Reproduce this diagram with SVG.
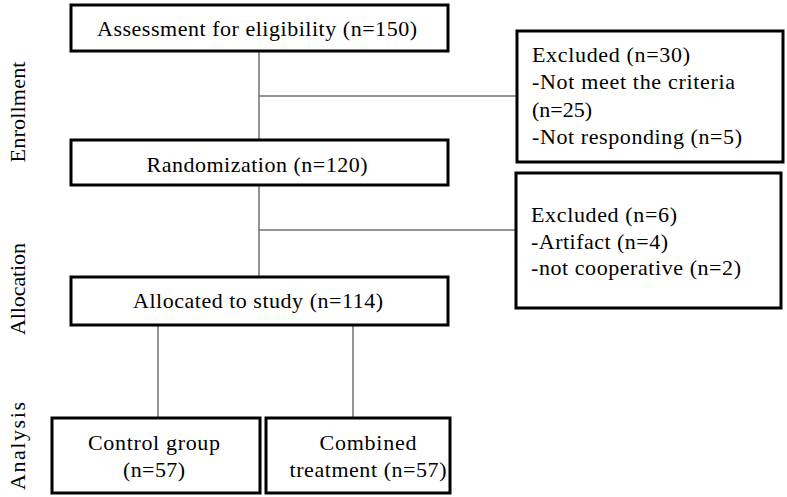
<svg xmlns="http://www.w3.org/2000/svg" width="787" height="497" viewBox="0 0 787 497">
<style>
.box{fill:#fff;stroke:#000;stroke-width:3}
.t{font-family:"Liberation Serif","Times New Roman",serif;font-size:22px;fill:#000}
.c{text-anchor:middle}
.lab{font-family:"Liberation Serif","Times New Roman",serif;font-size:22px;fill:#000;text-anchor:middle}
.ln{stroke:#707070;stroke-width:1.5;fill:none}
</style>
<rect width="787" height="497" fill="#fff"/>
<g id="connectors">
<line class="ln" x1="259" y1="51" x2="259" y2="140"/>
<line class="ln" x1="259" y1="96" x2="517" y2="96"/>
<line class="ln" x1="259" y1="185" x2="259" y2="276"/>
<line class="ln" x1="259" y1="230" x2="516" y2="230"/>
<line class="ln" x1="158" y1="325" x2="158" y2="417"/>
<line class="ln" x1="353" y1="325" x2="353" y2="417"/>
</g>
<g id="labels">
<text class="lab" transform="translate(25,112) rotate(-90)" textLength="101" lengthAdjust="spacing">Enrollment</text>
<text class="lab" transform="translate(25,289) rotate(-90)" textLength="92" lengthAdjust="spacing">Allocation</text>
<text class="lab" transform="translate(25,446) rotate(-90)" textLength="88" lengthAdjust="spacing">Analysis</text>
</g>
<g id="assessment">
<rect class="box" x="71" y="5" width="377" height="46"/>
<text class="t c" x="257" y="36" textLength="320" lengthAdjust="spacing">Assessment for eligibility (n=150)</text>
</g>
<g id="excluded1">
<rect class="box" x="517" y="31" width="266" height="131"/>
<text class="t" x="532" y="62" textLength="158" lengthAdjust="spacing">Excluded (n=30)</text>
<text class="t" x="532" y="89" textLength="203" lengthAdjust="spacing">-Not meet the criteria</text>
<text class="t" x="532" y="117" textLength="60" lengthAdjust="spacing">(n=25)</text>
<text class="t" x="532" y="144" textLength="210" lengthAdjust="spacing">-Not responding (n=5)</text>
</g>
<g id="randomization">
<rect class="box" x="71" y="140" width="377" height="45"/>
<text class="t c" x="257" y="172" textLength="221" lengthAdjust="spacing">Randomization (n=120)</text>
</g>
<g id="excluded2">
<rect class="box" x="516" y="173" width="265" height="135"/>
<text class="t" x="531" y="222" textLength="146" lengthAdjust="spacing">Excluded (n=6)</text>
<text class="t" x="531" y="249" textLength="137" lengthAdjust="spacing">-Artifact (n=4)</text>
<text class="t" x="531" y="275" textLength="210" lengthAdjust="spacing">-not cooperative (n=2)</text>
</g>
<g id="allocated">
<rect class="box" x="71" y="277" width="377" height="48"/>
<text class="t c" x="258" y="308" textLength="250" lengthAdjust="spacing">Allocated to study (n=114)</text>
</g>
<g id="control">
<rect class="box" x="52" y="418" width="208" height="75"/>
<text class="t c" x="154" y="450" textLength="132" lengthAdjust="spacing">Control group</text>
<text class="t c" x="154" y="477" textLength="62" lengthAdjust="spacing">(n=57)</text>
</g>
<g id="combined">
<rect class="box" x="266" y="418" width="184" height="75"/>
<text class="t c" x="368" y="450" textLength="97" lengthAdjust="spacing">Combined</text>
<text class="t c" x="368" y="477" textLength="157" lengthAdjust="spacing">treatment (n=57)</text>
</g>
</svg>
